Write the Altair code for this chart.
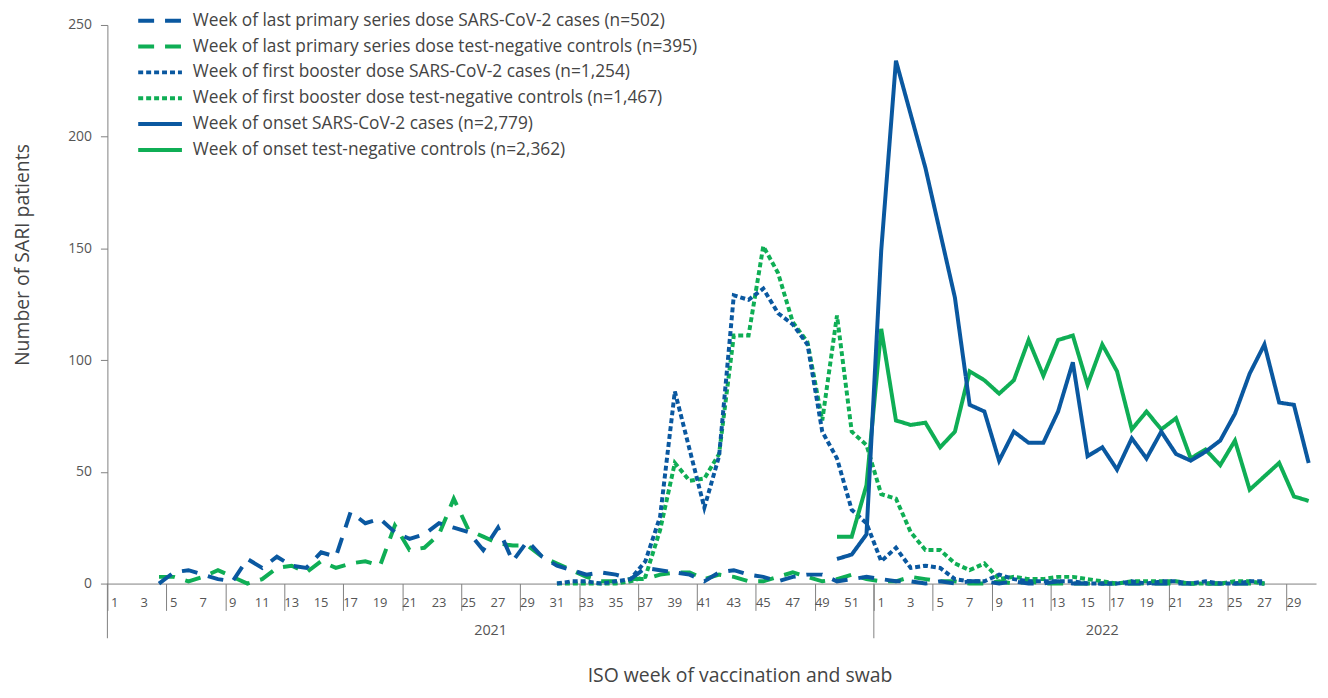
import altair as alt
import pandas as pd

# ---------------- categories ----------------
weeks_2021 = list(range(1, 53))
weeks_2022 = list(range(1, 31))
categories = [f"2021-{w:02d}" for w in weeks_2021] + [f"2022-{w:02d}" for w in weeks_2022]
week_numbers = weeks_2021 + weeks_2022
tick_labels = [str(w) if w % 2 == 1 else "" for w in week_numbers]   # odd weeks labelled
year_labels = ["2021", "2022"]
year_label_pos = [26.0, 67.5]       # in week-index units
year_boundaries = [0, 52]

series_names = [
    "Week of last primary series dose SARS-CoV-2 cases (n=502)",
    "Week of last primary series dose test-negative controls (n=395)",
    "Week of first booster dose SARS-CoV-2 cases (n=1,254)",
    "Week of first booster dose test-negative controls (n=1,467)",
    "Week of onset SARS-CoV-2 cases (n=2,779)",
    "Week of onset test-negative controls (n=2,362)",
]
series_colors = ["#0A58A0", "#0FAE55", "#0A58A0", "#0FAE55", "#0A58A0", "#0FAE55"]
series_dash = [[16, 11], [16, 11], [5, 3], [5, 3], [1, 0], [1, 0]]
series_width = [4, 4, 3.5, 3.5, 5, 5]

# ---------------- values (start category + weekly counts) ----------------
primary_cases_start = "2021-04"
primary_cases = [0, 5, 6, 4, 2, 1, 11, 7, 12, 8, 7, 14, 12, 32, 27, 29, 23, 20, 22, 27,
                 25, 23, 15, 25, 10, 19, 12, 8, 6, 4, 5, 4, 2, 7, 6, 5, 4, 1, 5, 6,
                 4, 3, 1, 3, 4, 4, 1, 2, 3,
                 2, 1, 1, 0, 1, 0, 1, 1, 0, 1, 0, 0, 1, 0, 0, 0, 0, 0, 0, 0, 0, 0, 0, 0, 0, 0, 0]

primary_controls_start = "2021-04"
primary_controls = [3, 3, 1, 3, 6, 3, 0, 2, 7, 8, 5, 10, 7, 9, 10, 8, 26, 15, 16, 22,
                    38, 24, 21, 18, 17, 17, 12, 9, 6, 3, 1, 1, 2, 2, 4, 5, 5, 2, 4, 3,
                    1, 1, 3, 5, 3, 1, 2, 4, 2,
                    1, 1, 3, 2, 1, 1, 0, 0, 1, 0, 1, 0, 0, 0, 0, 0, 0, 0, 0, 0, 0, 0, 0, 0, 0, 0, 0]

booster_cases_start = "2021-31"
booster_cases = [0, 1, 1, 0, 1, 2, 10, 30, 86, 60, 34, 57, 129, 127, 132, 121, 116, 107, 68, 56,
                 33, 27,
                 10, 16, 7, 8, 7, 2, 1, 1, 4, 2, 1, 1, 1, 1, 0, 0, 0, 1, 0, 1, 1, 0, 1, 0, 0, 1, 1]

booster_controls_start = "2021-31"
booster_controls = [0, 0, 0, 0, 0, 1, 3, 24, 54, 46, 47, 58, 111, 111, 151, 139, 117, 108, 73, 120,
                    68, 62,
                    40, 38, 23, 15, 15, 9, 6, 9, 2, 3, 2, 2, 3, 3, 2, 1, 0, 1, 1, 1, 1, 0, 0, 0, 1, 1, 0]

onset_cases_start = "2021-50"
onset_cases = [11, 13, 22,
               149, 234, 210, 186, 157, 128, 80, 77, 55, 68, 63, 63, 77, 99, 57, 61, 51, 65,
               56, 68, 58, 55, 59, 64, 76, 94, 107, 81, 80, 54]

onset_controls_start = "2021-50"
onset_controls = [21, 21, 44,
                  114, 73, 71, 72, 61, 68, 95, 91, 85, 91, 109, 93, 109, 111, 89, 107, 95, 69,
                  77, 69, 74, 56, 60, 53, 64, 42, 48, 54, 39, 37]

series_data = [
    (series_names[1], primary_controls_start, primary_controls),
    (series_names[0], primary_cases_start, primary_cases),
    (series_names[3], booster_controls_start, booster_controls),
    (series_names[2], booster_cases_start, booster_cases),
    (series_names[5], onset_controls_start, onset_controls),
    (series_names[4], onset_cases_start, onset_cases),
]

rows = []
for name, start, vals in series_data:
    i0 = categories.index(start)
    for k, v in enumerate(vals):
        rows.append({"week": categories[i0 + k], "pos": i0 + k + 0.5, "series": name, "count": v})
df = pd.DataFrame(rows)

label_df = pd.DataFrame({"pos": [i + 0.5 for i in range(len(categories))], "label": tick_labels})
label_df = label_df[label_df["label"] != ""]

FONT = "Open Sans"
GRAY = "#808080"
TEXT = "#444444"
W, H = 1216, 562
n_weeks = len(categories)

xscale = alt.Scale(domain=[0, n_weeks], nice=False, zero=False)

legend = alt.Legend(
    title=None, orient="none", legendX=29, legendY=-17, padding=0,
    symbolType="stroke", symbolSize=1936, labelFontSize=17.4, labelColor=TEXT,
    labelFont=FONT, labelLimit=900, rowPadding=0, clipHeight=25.4, labelOffset=9,
)

lines = alt.Chart(df).mark_line().encode(
    x=alt.X("pos:Q", scale=xscale,
            axis=alt.Axis(
                title="ISO week of vaccination and swab", titleFontSize=19.5,
                titleFontWeight="normal", titleColor=TEXT, titleFont=FONT,
                titleX=636, titleY=93, titleAlign="center", titleBaseline="middle",
                values=list(range(n_weeks + 1)), labels=False, tickSize=27,
                tickColor=GRAY, domainColor=GRAY, grid=False,
            )),
    y=alt.Y("count:Q", scale=alt.Scale(domain=[0, 250], nice=False),
            axis=alt.Axis(
                values=[0, 50, 100, 150, 200, 250], grid=False, tickSize=7,
                labelPadding=9, labelFontSize=14, labelColor="#555555", labelFont=FONT,
                tickColor=GRAY, domainColor=GRAY,
                title="Number of SARI patients", titleFontSize=19.5, titleFontWeight="normal",
                titleColor=TEXT, titleFont=FONT, titleX=-85, titleY=231,
                titleAlign="center", titleBaseline="middle",
            )),
    color=alt.Color("series:N", scale=alt.Scale(domain=series_names, range=series_colors), legend=legend),
    strokeDash=alt.StrokeDash("series:N", scale=alt.Scale(domain=series_names, range=series_dash), legend=legend),
    strokeWidth=alt.StrokeWidth("series:N", scale=alt.Scale(domain=series_names, range=series_width), legend=legend),
    order="pos:Q",
)

week_text = alt.Chart(label_df).mark_text(
    fontSize=13, color="#555555", font=FONT, baseline="middle", align="center"
).encode(x=alt.X("pos:Q", scale=xscale), y=alt.value(H + 20), text="label:N")

separators = alt.Chart(pd.DataFrame({"pos": year_boundaries})).mark_rule(color=GRAY, strokeWidth=1).encode(
    x=alt.X("pos:Q", scale=xscale),
    y=alt.value(H), y2=alt.value(H + 55),
)

years = alt.Chart(pd.DataFrame({"pos": year_label_pos, "label": year_labels})).mark_text(
    fontSize=14.5, color="#555555", font=FONT, baseline="middle", align="center"
).encode(x=alt.X("pos:Q", scale=xscale), y=alt.value(H + 48), text="label:N")

chart = alt.layer(lines, week_text, separators, years).properties(
    width=W, height=H,
    autosize=alt.AutoSizeParams(type="none"),
    padding={"left": 100, "top": 15, "right": 4, "bottom": 105},
).configure(font=FONT).configure_view(stroke=None)

chart.save("out.html", embed_options={"renderer": "svg", "actions": False})
